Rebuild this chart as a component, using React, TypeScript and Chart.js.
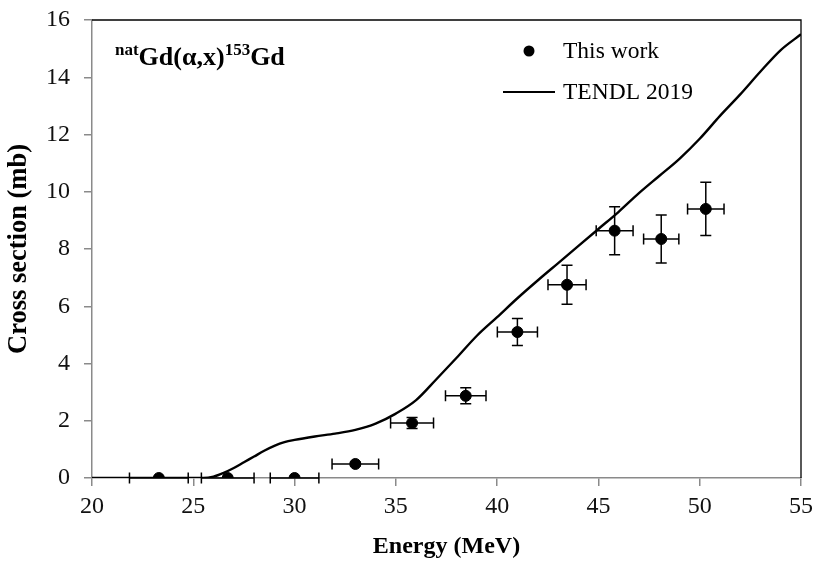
import { useEffect, useRef } from "react";
import { Chart, registerables } from "chart.js";

Chart.register(...registerables);

// Measured cross sections (this work)
const energy = [23.3, 26.7, 30.0, 33.0, 35.8, 38.45, 41.0, 43.45, 45.8, 48.1, 50.3];
const crossSection = [0, 0, 0, 0.49, 1.92, 2.87, 5.1, 6.75, 8.64, 8.35, 9.4];
const energyErr = [1.45, 1.3, 1.2, 1.15, 1.06, 1.0, 0.99, 0.94, 0.91, 0.87, 0.9];
const crossErr = [0, 0, 0, 0.06, 0.19, 0.28, 0.47, 0.68, 0.84, 0.84, 0.93];

// TENDL 2019 evaluation
const tendlEnergy = [20, 21, 22, 23, 24, 25, 25.5, 26, 26.5, 27, 27.5, 28, 28.5, 29, 29.5, 30, 31, 32, 33, 34, 35, 36, 37, 38, 39, 40, 41, 42, 43, 44, 45, 46, 47, 48, 49, 50, 51, 52, 53, 54, 55];
const tendlCross = [0, 0, 0, 0, 0, 0, 0, 0.05, 0.18, 0.35, 0.55, 0.75, 0.95, 1.12, 1.25, 1.33, 1.45, 1.55, 1.68, 1.9, 2.25, 2.72, 3.45, 4.2, 4.97, 5.62, 6.28, 6.9, 7.5, 8.1, 8.7, 9.3, 9.95, 10.55, 11.15, 11.85, 12.65, 13.4, 14.2, 14.95, 15.5];

const xTickValues = [20, 25, 30, 35, 40, 45, 50, 55];
const yTickValues = [0, 2, 4, 6, 8, 10, 12, 14, 16];

const SERIF = '"Liberation Serif", "Times New Roman", serif';
const AXIS_GRAY = "#8a8a8a";

const errorBars = {
  id: "errorBars",
  afterDatasetsDraw(chart: any) {
    const { ctx, scales } = chart;
    const xs = scales.x;
    const ys = scales.y;
    const cap = 5.5;
    ctx.save();
    ctx.strokeStyle = "#000";
    ctx.lineWidth = 1.5;
    energy.forEach((e, i) => {
      const px = xs.getPixelForValue(e);
      const py = ys.getPixelForValue(crossSection[i]);
      const xl = xs.getPixelForValue(e - energyErr[i]);
      const xr = xs.getPixelForValue(e + energyErr[i]);
      ctx.beginPath();
      ctx.moveTo(xl, py);
      ctx.lineTo(xr, py);
      ctx.moveTo(xl, py - cap);
      ctx.lineTo(xl, py + cap);
      ctx.moveTo(xr, py - cap);
      ctx.lineTo(xr, py + cap);
      if (crossErr[i] > 0) {
        const yt = ys.getPixelForValue(crossSection[i] + crossErr[i]);
        const yb = ys.getPixelForValue(crossSection[i] - crossErr[i]);
        ctx.moveTo(px, yt);
        ctx.lineTo(px, yb);
        ctx.moveTo(px - cap, yt);
        ctx.lineTo(px + cap, yt);
        ctx.moveTo(px - cap, yb);
        ctx.lineTo(px + cap, yb);
      }
      ctx.stroke();
    });
    ctx.restore();
  },
};

const frameAndLabels = {
  id: "frameAndLabels",
  afterDraw(chart: any) {
    const { ctx, chartArea } = chart;
    const { left, right, top, bottom } = chartArea;
    ctx.save();
    // top and right frame
    ctx.strokeStyle = "#000";
    ctx.lineWidth = 1.3;
    ctx.beginPath();
    ctx.moveTo(left, top);
    ctx.lineTo(right, top);
    ctx.lineTo(right, bottom);
    ctx.stroke();

    // reaction label
    ctx.fillStyle = "#000";
    ctx.textBaseline = "alphabetic";
    ctx.textAlign = "left";
    let x = left + 23;
    const base = top + 45;
    const parts: [string, boolean][] = [
      ["nat", true],
      ["Gd(α,x)", false],
      ["153", true],
      ["Gd", false],
    ];
    parts.forEach(([t, sup]) => {
      ctx.font = sup ? `bold 17px ${SERIF}` : `bold 26px ${SERIF}`;
      ctx.fillText(t, x, sup ? base - 10 : base);
      x += ctx.measureText(t).width;
    });

    // legend
    ctx.font = `23.5px ${SERIF}`;
    ctx.beginPath();
    ctx.arc(529, 51, 5.5, 0, Math.PI * 2);
    ctx.fill();
    ctx.fillText("This work", 563, 58);
    ctx.lineWidth = 2.2;
    ctx.beginPath();
    ctx.moveTo(503, 92);
    ctx.lineTo(555, 92);
    ctx.stroke();
    ctx.fillText("TENDL 2019", 563, 99);
    ctx.restore();
  },
};

export default function App() {
  const canvasRef = useRef<HTMLCanvasElement | null>(null);

  useEffect(() => {
    const canvas = canvasRef.current;
    if (!canvas) return;
    const chart = new Chart(canvas, {
      type: "scatter",
      data: {
        datasets: [
          {
            type: "line",
            label: "TENDL 2019",
            data: tendlEnergy.map((e, i) => ({ x: e, y: tendlCross[i] })),
            borderColor: "#000",
            borderWidth: 2.4,
            pointRadius: 0,
            cubicInterpolationMode: "monotone",
            fill: false,
          },
          {
            type: "scatter",
            label: "This work",
            data: energy.map((e, i) => ({ x: e, y: crossSection[i] })),
            backgroundColor: "#000",
            borderColor: "#000",
            pointRadius: 5.5,
          },
        ],
      },
      options: {
        animation: false,
        responsive: false,
        maintainAspectRatio: false,
        layout: { padding: { top: 20, right: 15, left: 0, bottom: 0 } },
        plugins: {
          legend: { display: false },
          tooltip: { enabled: false },
        },
        scales: {
          x: {
            type: "linear",
            min: 20,
            max: 55,
            afterBuildTicks: (s: any) => {
              s.ticks = xTickValues.map((v) => ({ value: v }));
            },
            afterFit: (s: any) => {
              s.height = 87;
              s.paddingLeft = 0;
              s.paddingRight = 0;
            },
            grid: { drawOnChartArea: false, drawTicks: true, tickLength: 8, color: AXIS_GRAY, lineWidth: 1.5 },
            border: { color: AXIS_GRAY, width: 1.5 },
            ticks: { font: { family: SERIF, size: 24 }, color: "#111", padding: 6, maxRotation: 0 },
            title: {
              display: true,
              text: "Energy (MeV)",
              font: { family: SERIF, size: 24, weight: "bold" },
              color: "#000",
              padding: { top: 0, bottom: 4 },
            },
          },
          y: {
            type: "linear",
            min: 0,
            max: 16,
            afterBuildTicks: (s: any) => {
              s.ticks = yTickValues.map((v) => ({ value: v }));
            },
            afterFit: (s: any) => {
              s.width = 92;
              s.paddingTop = 0;
              s.paddingBottom = 0;
            },
            grid: { drawOnChartArea: false, drawTicks: true, tickLength: 8, color: AXIS_GRAY, lineWidth: 1.5 },
            border: { color: AXIS_GRAY, width: 1.5 },
            ticks: { font: { family: SERIF, size: 24 }, color: "#111", padding: 14 },
            title: {
              display: true,
              text: "Cross section (mb)",
              font: { family: SERIF, size: 26.5, weight: "bold" },
              color: "#000",
              padding: { top: 3, bottom: 0 },
            },
          },
        },
      },
      plugins: [errorBars, frameAndLabels],
    } as any);
    return () => chart.destroy();
  }, []);

  return (
    <div style={{ position: "fixed", left: 0, top: 0, width: 816, height: 565, background: "#fff" }}>
      <canvas ref={canvasRef} width={816} height={565} style={{ width: 816, height: 565, display: "block" }} />
    </div>
  );
}
